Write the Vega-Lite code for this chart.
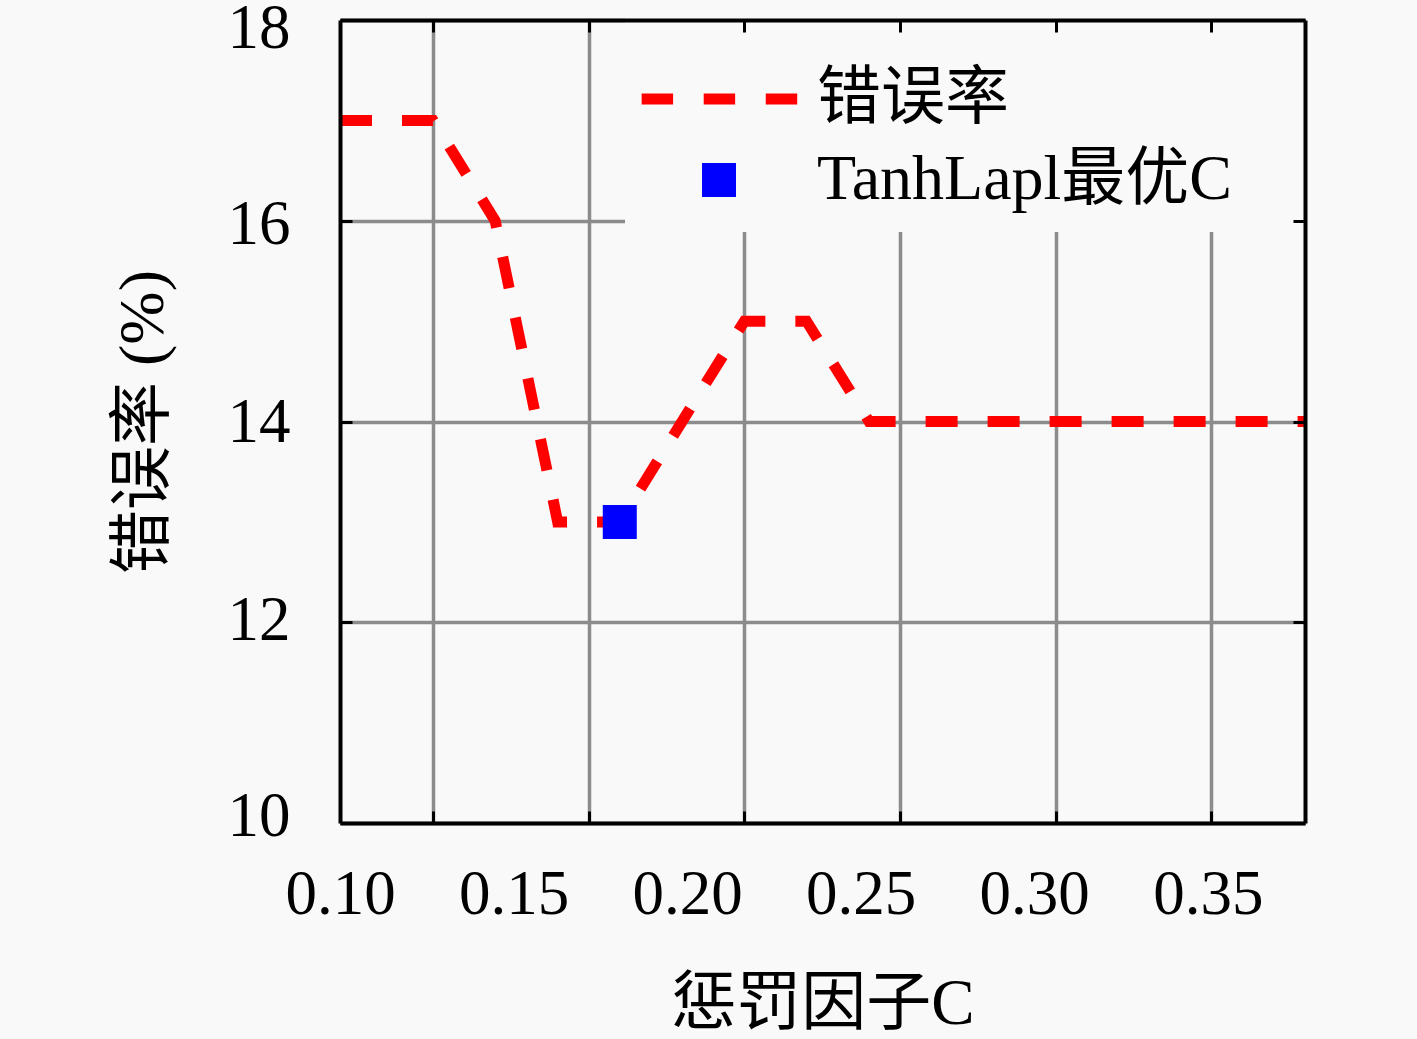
{
  "$schema": "https://vega.github.io/schema/vega-lite/v6.json",
  "width": 965,
  "height": 803,
  "autosize": {"type": "none"},
  "padding": {"left": 340, "top": 20, "right": 112, "bottom": 216},
  "background": "#f9f9f9",
  "data": {
    "values": [
      {"C": 0.1000, "rate": 17, "series": "错误率"},
      {"C": 0.1268, "rate": 17, "series": "错误率"},
      {"C": 0.1447, "rate": 16, "series": "错误率"},
      {"C": 0.1627, "rate": 13, "series": "错误率"},
      {"C": 0.1806, "rate": 13, "series": "错误率"},
      {"C": 0.2165, "rate": 15, "series": "错误率"},
      {"C": 0.2344, "rate": 15, "series": "错误率"},
      {"C": 0.2524, "rate": 14, "series": "错误率"},
      {"C": 0.3780, "rate": 14, "series": "错误率"},
      {"C": 0.1806, "rate": 13, "series": "TanhLapl最优C"}
    ]
  },
  "layer": [
    {
      "transform": [{"filter": "datum.series == '错误率'"}],
      "mark": {"type": "line", "color": "#ff0000", "strokeWidth": 11, "strokeDash": [32, 30], "strokeCap": "butt"},
      "encoding": {
        "x": {
          "field": "C",
          "type": "quantitative",
          "scale": {"domain": [0.1, 0.378], "nice": false, "zero": false},
          "axis": {
            "orient": "bottom",
            "values": [0.1, 0.15, 0.2, 0.25, 0.3, 0.35],
            "format": ".2f",
            "ticks": false,
            "grid": false,
            "labelPadding": 40,
            "title": "惩罚因子C",
            "titleFontSize": 65,
            "titlePadding": 46,
            "zindex": 1
          }
        },
        "y": {
          "field": "rate",
          "type": "quantitative",
          "scale": {"domain": [10, 18], "nice": false, "zero": false},
          "axis": {
            "orient": "left",
            "values": [10.06, 12.02, 13.99, 15.96, 17.92],
            "labelExpr": "format(round(datum.value), 'd')",
            "ticks": false,
            "grid": false,
            "labelPadding": 50,
            "title": "错误率 (%)",
            "titleFontSize": 64,
            "titlePadding": 52,
            "zindex": 1
          }
        }
      }
    },
    {
      "transform": [{"filter": "datum.series == 'TanhLapl最优C'"}],
      "mark": {"type": "point", "filled": true, "size": 1156, "opacity": 1},
      "encoding": {
        "x": {
          "field": "C",
          "type": "quantitative",
          "axis": {
            "orient": "bottom",
            "values": [0.1268, 0.1716, 0.2165, 0.2613, 0.3062, 0.351],
            "grid": false,
            "labels": false,
            "domain": false,
            "title": null,
            "zindex": 1
          }
        },
        "y": {
          "field": "rate",
          "type": "quantitative",
          "axis": {
            "orient": "right",
            "values": [10, 12, 14, 16, 18],
            "grid": false,
            "labels": false,
            "title": null,
            "zindex": 1
          }
        },
        "color": {
          "field": "series",
          "type": "nominal",
          "scale": {"domain": ["错误率", "TanhLapl最优C"], "range": ["#ff0000", "#0000ff"]},
          "legend": {
            "orient": "none",
            "legendX": 285,
            "legendY": -5,
            "title": " ",
            "titleFontSize": 22,
            "titlePadding": 10,
            "padding": 20,
            "fillColor": "#f9f9f9",
            "symbolSize": 1156,
            "symbolStrokeWidth": 0,
            "symbolOffset": 42,
            "labelOffset": 66,
            "labelFontSize": 64,
            "labelColor": "#000",
            "labelLimit": 800,
            "labelExpr": "datum.label + '\u00a0\u00a0\u00a0\u00a0\u00a0\u200b'",
            "rowPadding": 17
          }
        },
        "shape": {
          "field": "series",
          "type": "nominal",
          "scale": {
            "domain": ["错误率", "TanhLapl最优C"],
            "range": ["M-4.55,-0.33H-2.7V0.33H-4.55Z M-0.9,-0.33H0.95V0.33H-0.9Z M2.75,-0.33H4.6V0.33H2.75Z", "square"]
          },
          "legend": {
            "orient": "none",
            "legendX": 285,
            "legendY": -5,
            "title": " ",
            "titleFontSize": 22,
            "titlePadding": 10,
            "padding": 20,
            "fillColor": "#f9f9f9",
            "symbolSize": 1156,
            "symbolStrokeWidth": 0,
            "symbolOffset": 42,
            "labelOffset": 66,
            "labelFontSize": 64,
            "labelColor": "#000",
            "labelLimit": 800,
            "labelExpr": "datum.label + '\u00a0\u00a0\u00a0\u00a0\u00a0\u200b'",
            "rowPadding": 17
          }
        }
      }
    },
    {
      "transform": [{"filter": "datum.series == 'TanhLapl最优C'"}],
      "mark": {"type": "point", "opacity": 0},
      "encoding": {
        "x": {
          "field": "C",
          "type": "quantitative",
          "axis": {
            "orient": "top",
            "values": [0.1268, 0.1716, 0.2165, 0.2613, 0.3062, 0.351],
            "grid": false,
            "labels": false,
            "title": null,
            "zindex": 1
          }
        },
        "y": {
          "field": "rate",
          "type": "quantitative",
          "axis": {
            "orient": "left",
            "values": [10, 12, 14, 16, 18],
            "grid": false,
            "labels": false,
            "domain": false,
            "title": null,
            "zindex": 1
          }
        }
      }
    },
    {
      "transform": [{"filter": "datum.series == 'TanhLapl最优C'"}],
      "mark": {"type": "point", "opacity": 0},
      "encoding": {
        "x": {
          "field": "C",
          "type": "quantitative",
          "axis": {
            "orient": "bottom",
            "values": [0.1268, 0.1716, 0.2165, 0.2613, 0.3062, 0.351],
            "grid": true,
            "ticks": false,
            "labels": false,
            "domain": false,
            "title": null,
            "zindex": 0
          }
        },
        "y": {
          "field": "rate",
          "type": "quantitative",
          "axis": {
            "orient": "left",
            "values": [10, 12, 14, 16, 18],
            "grid": true,
            "ticks": false,
            "labels": false,
            "domain": false,
            "title": null,
            "zindex": 0
          }
        }
      }
    }
  ],
  "resolve": {"axis": {"x": "independent", "y": "independent"}},
  "config": {
    "font": "Liberation Serif, Noto Sans CJK SC",
    "view": {"stroke": null},
    "axis": {
      "labelFont": "Liberation Serif, Noto Sans CJK SC",
      "titleFont": "Liberation Serif, Noto Sans CJK SC",
      "labelFontSize": 63,
      "titleFontSize": 64,
      "titleFontWeight": "normal",
      "labelColor": "#000",
      "titleColor": "#000",
      "domainColor": "#000",
      "domainWidth": 4,
      "tickColor": "#000",
      "tickWidth": 3,
      "tickSize": -12,
      "gridColor": "#8c8c8c",
      "gridWidth": 3.5,
      "gridOpacity": 1,
      "labelFlush": false,
      "labelOverlap": false
    },
    "legend": {
      "labelFont": "Liberation Serif, Noto Sans CJK SC",
      "titleFont": "Liberation Serif, Noto Sans CJK SC"
    }
  }
}
